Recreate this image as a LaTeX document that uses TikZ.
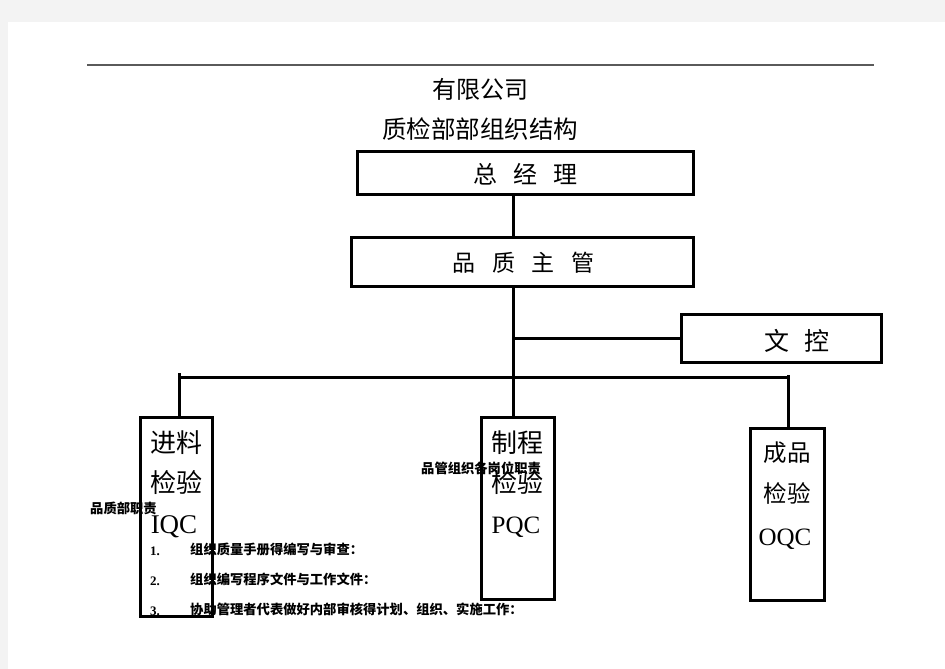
\documentclass[tikz,border=0pt]{standalone}
\usepackage{fontspec}
\setmainfont{Liberation Serif}
\newfontfamily\cjk{Noto Sans CJK SC}
\definecolor{pagegray}{HTML}{F3F3F3}
\definecolor{rulegray}{HTML}{5A5A5A}
\begin{document}
\begin{tikzpicture}[x=1pt,y=-1pt,
  box/.style={draw, line width=3.4pt, inner sep=0pt},
  conn/.style={line width=3pt},
  txt/.style={inner sep=0pt, font=\cjk},
  small/.style={inner sep=0pt, font=\cjk\bfseries\fontsize{13.3}{14}\selectfont, anchor=west},
  num/.style={inner sep=0pt, font=\bfseries\fontsize{13}{13}\selectfont, anchor=base west}]
\fill[pagegray] (0,0) rectangle (945,669);
\fill[white] (8,22) rectangle (945,669);
\useasboundingbox (0,0) rectangle (945,669);
\draw[rulegray, line width=1.2pt] (87,65) -- (874,65);
% titles
\node[txt, font=\cjk\fontsize{24}{24}\selectfont] (t1) at (480,89) {有限公司};
\node[txt, font=\cjk\fontsize{24.5}{25}\selectfont] (t2) at (480,129) {质检部部组织结构};
% boxes
\node[box, minimum width=335.5, minimum height=42.5] (gm) at (525.5,173) {};
\node[box, minimum width=341.5, minimum height=48.5] (qm) at (522.5,262) {};
\node[box, minimum width=199.5, minimum height=47.5] (wk) at (781.5,338.5) {};
\node[box, minimum width=71.5, minimum height=198.5] (iqc) at (176.5,517) {};
\node[box, minimum width=72.5, minimum height=181.5] (pqc) at (518,508.5) {};
\node[box, minimum width=73.5, minimum height=171.5] (oqc) at (787.5,514.5) {};
% box texts
\node[txt, font=\cjk\fontsize{24}{24}\selectfont] (gmt) at (525.5,174) {总\hspace{16pt}经\hspace{16pt}理};
\node[txt, font=\cjk\fontsize{23}{23}\selectfont] (qmt) at (523.5,263) {品\hspace{17pt}质\hspace{17pt}主\hspace{17pt}管};
\node[txt, font=\cjk\fontsize{25}{25}\selectfont] (wkt) at (796.5,341) {文\hspace{15pt}控};
\node[txt, font=\cjk\fontsize{26}{26}\selectfont] (i1) at (176.5,443) {进料};
\node[txt, font=\cjk\fontsize{26}{26}\selectfont] (i2) at (176.5,483) {检验};
\node[inner sep=0pt, font=\fontsize{27}{27}\selectfont, anchor=base] (i3) at (174,533) {IQC};
\node[txt, font=\cjk\fontsize{26}{26}\selectfont] (p1) at (517.5,443) {制程};
\node[txt, font=\cjk\fontsize{26}{26}\selectfont] (p2) at (517.5,483) {检验};
\node[inner sep=0pt, font=\fontsize{25}{25}\selectfont, anchor=base] (p3) at (516,533) {PQC};
\node[txt, font=\cjk\fontsize{23.5}{24}\selectfont] (o1) at (787,453) {成品};
\node[txt, font=\cjk\fontsize{23.5}{24}\selectfont] (o2) at (787,493) {检验};
\node[inner sep=0pt, font=\fontsize{25}{25}\selectfont, anchor=base] (o3) at (785,545) {OQC};
% small texts
\node[small] (s1) at (90,508) {品质部职责};
\node[small] (s2) at (421,468) {品管组织各岗位职责};
\node[num] (n1) at (150,555) {1.};
\node[num] (n2) at (150,585) {2.};
\node[num] (n3) at (150,615) {3.};
\node[small] (l1) at (190,549) {组织质量手册得编写与审查：};
\node[small] (l2) at (190,579) {组织编写程序文件与工作文件：};
\node[small] (l3) at (190,609) {协助管理者代表做好内部审核得计划、组织、实施工作：};
% connectors
\coordinate (spine) at (513,0);
\coordinate (bus) at (0,377.5);
\coordinate (lx) at (179,373);
\coordinate (rx) at (788,375);
\draw[conn] (gm.south -| spine) -- (qm.north -| spine);
\draw[conn] (qm.south -| spine) -- (pqc.north -| spine);
\draw[conn] (wk.west) -- (wk.west -| spine);
\draw[conn] (lx) -- (lx |- iqc.north);
\draw[conn] (lx |- bus) -- (rx |- bus);
\draw[conn] (rx) -- (rx |- oqc.north);
\end{tikzpicture}
\end{document}
